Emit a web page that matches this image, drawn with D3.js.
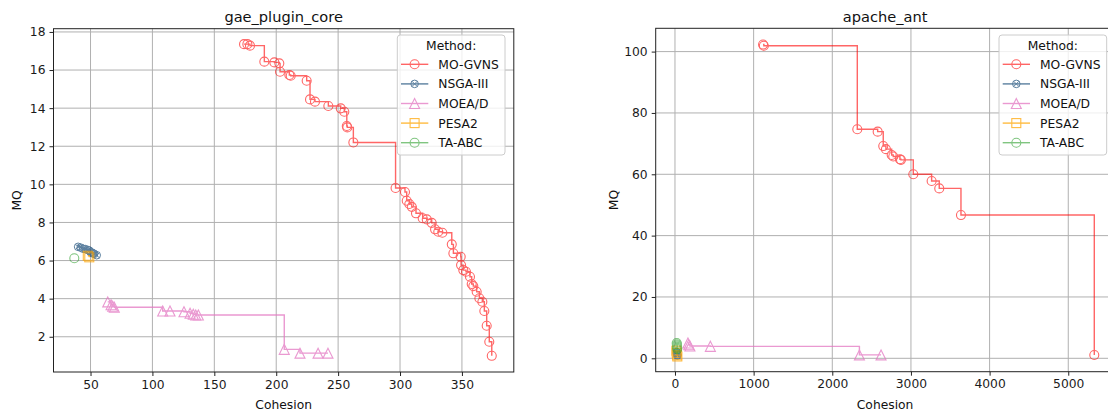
<!DOCTYPE html>
<html>
<head>
<meta charset="utf-8">
<script src="https://cdn.jsdelivr.net/npm/d3@7"></script>
<style>
  html, body { margin: 0; padding: 0; background: #fff; }
  svg { display: block; font-family: "DejaVu Sans", sans-serif; }
</style>
</head>
<body>
<svg id="chart" width="1108" height="416"></svg>
<script>
// ---------------- DATA ----------------
const methods = ["MO-GVNS", "NSGA-III", "MOEA/D", "PESA2", "TA-ABC"];

// gae_plugin_core
const gaeMOGVNS_cohesion = [174.0, 176.7, 178.8, 190.4, 198.5, 202.5, 203.1, 210.6, 211.7, 224.6, 227.3, 231.3, 242.1, 252.1, 255.0, 257.0, 257.4, 262.3, 296.4, 304.0, 305.4, 307.5, 309.5, 312.9, 318.3, 321.6, 325.6, 328.3, 330.9, 334.2, 341.8, 343.1, 349.0, 349.3, 351.1, 353.3, 356.5, 357.9, 359.2, 361.9, 364.1, 366.5, 368.1, 370.0, 372.1, 374.1];
const gaeMOGVNS_mq = [17.36, 17.36, 17.28, 16.44, 16.40, 16.35, 15.91, 15.74, 15.70, 15.44, 14.46, 14.34, 14.11, 13.99, 13.81, 13.06, 12.99, 12.20, 9.81, 9.60, 9.14, 8.97, 8.82, 8.48, 8.22, 8.16, 7.98, 7.64, 7.51, 7.46, 6.85, 6.38, 6.20, 5.76, 5.50, 5.41, 5.15, 4.77, 4.66, 4.36, 4.02, 3.84, 3.35, 2.58, 1.74, 1.00];
const gaeNSGA3_cohesion = [40, 42, 44, 46, 48, 49, 50, 51, 52, 53, 55];
const gaeNSGA3_mq = [6.72, 6.68, 6.62, 6.60, 6.55, 6.52, 6.45, 6.42, 6.38, 6.35, 6.28];
const gaeMOEAD_cohesion = [63.9, 66.6, 67.9, 69.2, 108.3, 114.2, 125.5, 130.4, 133.0, 135.0, 137.1, 206.5, 219.2, 233.8, 241.8];
const gaeMOEAD_mq = [3.83, 3.68, 3.60, 3.55, 3.35, 3.35, 3.31, 3.23, 3.18, 3.14, 3.14, 1.34, 1.14, 1.14, 1.14];
const gaePESA2_cohesion = [47.8, 49.0];
const gaePESA2_mq = [6.25, 6.17];
const gaeTAABC_cohesion = [36.9];
const gaeTAABC_mq = [6.12];

// apache_ant
const antMOGVNS_cohesion = [1120, 1130, 2318, 2577, 2648, 2682, 2755, 2775, 2860, 2873, 3030, 3263, 3360, 3636, 5331];
const antMOGVNS_mq = [102.3, 101.9, 74.7, 73.9, 69.2, 68.2, 66.3, 65.8, 64.9, 64.7, 60.0, 57.8, 55.4, 46.7, 1.08];
const antNSGA3_cohesion = [22, 25, 28, 31];
const antNSGA3_mq = [2.0, 1.6, 1.2, 0.9];
const antMOEAD_cohesion = [165, 175, 190, 450, 2345, 2620];
const antMOEAD_mq = [5.0, 4.4, 4.0, 3.9, 1.1, 1.1];
const antPESA2_cohesion = [18, 22, 26, 30];
const antPESA2_mq = [2.5, 1.8, 1.0, 0.6];
const antTAABC_cohesion = [22, 24, 26, 27, 28, 29];
const antTAABC_mq = [5.0, 4.6, 4.2, 3.8, 3.4, 3.0];

const gaeXTicks = [50, 100, 150, 200, 250, 300, 350];
const gaeYTicks = [2, 4, 6, 8, 10, 12, 14, 16, 18];
const antXTicks = [0, 1000, 2000, 3000, 4000, 5000];
const antYTicks = [0, 20, 40, 60, 80, 100];

// ---------------- STYLE ----------------
const styles = {
  "MO-GVNS": { color: "#ff0000", opacity: 0.6, marker: "circle" },
  "NSGA-III": { color: "#24557f", opacity: 0.75, marker: "otimes" },
  "MOEA/D": { color: "#e377c2", opacity: 0.75, marker: "triangle" },
  "PESA2": { color: "#ffa500", opacity: 0.75, marker: "square" },
  "TA-ABC": { color: "#2ca02c", opacity: 0.6, marker: "circle" }
};

const zip = (a, b) => a.map((v, i) => ({ x: v, y: b[i] }));

const panels = [
  {
    title: "gae_plugin_core",
    xDomain: [20.1, 391.9], xRange: [53.5, 513.8],
    yDomain: [0.15, 18.17], yRange: [372, 28.7],
    xTicks: gaeXTicks, yTicks: gaeYTicks,
    series: {
      "MO-GVNS": zip(gaeMOGVNS_cohesion, gaeMOGVNS_mq),
      "NSGA-III": zip(gaeNSGA3_cohesion, gaeNSGA3_mq),
      "MOEA/D": zip(gaeMOEAD_cohesion, gaeMOEAD_mq),
      "PESA2": zip(gaePESA2_cohesion, gaePESA2_mq),
      "TA-ABC": zip(gaeTAABC_cohesion, gaeTAABC_mq)
    },
    legendX: 397.3, ylabelX: 17
  },
  {
    title: "apache_ant",
    xDomain: [-245, 5588], xRange: [655.7, 1114.5],
    yDomain: [-4.37, 107.6], yRange: [371.7, 28.3],
    xTicks: antXTicks, yTicks: antYTicks,
    series: {
      "MO-GVNS": zip(antMOGVNS_cohesion, antMOGVNS_mq),
      "NSGA-III": zip(antNSGA3_cohesion, antNSGA3_mq),
      "MOEA/D": zip(antMOEAD_cohesion, antMOEAD_mq),
      "PESA2": zip(antPESA2_cohesion, antPESA2_mq),
      "TA-ABC": zip(antTAABC_cohesion, antTAABC_mq)
    },
    legendX: 999, ylabelX: 614
  }
];

const svg = d3.select("#chart");
const FONT = 12.3;

function drawMarker(g, type, x, y, color) {
  const r = 4.5;
  if (type === "circle") {
    g.append("circle").attr("cx", x).attr("cy", y).attr("r", r)
      .attr("fill", "none").attr("stroke", color).attr("stroke-width", 1.1);
  } else if (type === "square") {
    g.append("rect").attr("x", x - r).attr("y", y - r).attr("width", 2 * r).attr("height", 2 * r)
      .attr("fill", "none").attr("stroke", color).attr("stroke-width", 1.1);
  } else if (type === "triangle") {
    const s = 5;
    g.append("path").attr("d", `M${x},${y - s}L${x - s},${y + s}L${x + s},${y + s}Z`)
      .attr("fill", "none").attr("stroke", color).attr("stroke-width", 1.1);
  } else if (type === "otimes") {
    const rr = 3.8, d = 2.7;
    g.append("circle").attr("cx", x).attr("cy", y).attr("r", rr)
      .attr("fill", "none").attr("stroke", color).attr("stroke-width", 1);
    g.append("path").attr("d", `M${x - d},${y - d}L${x + d},${y + d}M${x - d},${y + d}L${x + d},${y - d}`)
      .attr("stroke", color).attr("stroke-width", 1);
  }
}

panels.forEach(p => {
  const x = d3.scaleLinear().domain(p.xDomain).range(p.xRange);
  const y = d3.scaleLinear().domain(p.yDomain).range(p.yRange);
  const [x0, x1] = p.xRange, [y1, y0] = p.yRange;
  const g = svg.append("g");

  // grid
  g.append("g").selectAll("line").data(p.xTicks).join("line")
    .attr("x1", d => x(d)).attr("x2", d => x(d)).attr("y1", y0).attr("y2", y1)
    .attr("stroke", "#b0b0b0").attr("stroke-width", 1);
  g.append("g").selectAll("line").data(p.yTicks).join("line")
    .attr("x1", x0).attr("x2", x1).attr("y1", d => y(d)).attr("y2", d => y(d))
    .attr("stroke", "#b0b0b0").attr("stroke-width", 1);

  // series
  const clipId = "clip" + p.title;
  svg.append("clipPath").attr("id", clipId).append("rect")
    .attr("x", x0).attr("y", y0).attr("width", x1 - x0).attr("height", y1 - y0);
  const plot = g.append("g").attr("clip-path", `url(#${clipId})`);
  const line = d3.line().x(d => x(d.x)).y(d => y(d.y)).curve(d3.curveStepAfter);
  methods.forEach(m => {
    const st = styles[m];
    const data = p.series[m];
    const sg = plot.append("g").attr("opacity", st.opacity);
    sg.append("path").attr("d", line(data)).attr("fill", "none")
      .attr("stroke", st.color).attr("stroke-width", 1.4);
    data.forEach(d => drawMarker(sg, st.marker, x(d.x), y(d.y), st.color));
  });

  // axes
  const xAxis = d3.axisBottom(x).tickValues(p.xTicks).tickSize(4).tickPadding(4).tickFormat(d3.format("d"));
  const yAxis = d3.axisLeft(y).tickValues(p.yTicks).tickSize(4).tickPadding(4).tickFormat(d3.format("d"));
  const gx = g.append("g").attr("transform", `translate(0,${y1})`).call(xAxis);
  const gy = g.append("g").attr("transform", `translate(${x0},0)`).call(yAxis);
  [gx, gy].forEach(a => {
    a.select(".domain").remove();
    a.selectAll("text").attr("font-size", FONT).attr("fill", "#1a1a1a").attr("font-family", "DejaVu Sans");
    a.selectAll("line").attr("stroke", "#222");
  });
  // spines
  g.append("rect").attr("x", x0).attr("y", y0).attr("width", x1 - x0).attr("height", y1 - y0)
    .attr("fill", "none").attr("stroke", "#222").attr("stroke-width", 1);

  // title & labels
  g.append("text").attr("x", (x0 + x1) / 2).attr("y", 22).attr("text-anchor", "middle")
    .attr("font-size", 14.6).attr("fill", "#111").text(p.title);
  g.append("text").attr("x", (x0 + x1) / 2).attr("y", 409).attr("text-anchor", "middle")
    .attr("font-size", FONT).attr("fill", "#111").text("Cohesion");
  g.append("text").attr("transform", `translate(${p.ylabelX + 4},${(y0 + y1) / 2}) rotate(-90)`)
    .attr("text-anchor", "middle").attr("font-size", FONT).attr("fill", "#111").text("MQ");

  // legend
  const lx = p.legendX, ly = 35, lw = 107.7, lh = 120;
  const lg = g.append("g");
  lg.append("rect").attr("x", lx).attr("y", ly).attr("width", lw).attr("height", lh)
    .attr("rx", 3).attr("fill", "#fff").attr("fill-opacity", 0.8)
    .attr("stroke", "#cccccc").attr("stroke-width", 1);
  lg.append("text").attr("x", lx + lw / 2).attr("y", 50).attr("text-anchor", "middle")
    .attr("font-size", FONT).attr("fill", "#111").text("Method:");
  methods.forEach((m, i) => {
    const st = styles[m];
    const cy = 64.3 + i * 19.6;
    const eg = lg.append("g").attr("opacity", st.opacity);
    eg.append("line").attr("x1", lx + 3.7).attr("x2", lx + 31).attr("y1", cy).attr("y2", cy)
      .attr("stroke", st.color).attr("stroke-width", 1.4);
    drawMarker(eg, st.marker, lx + 17.3, cy, st.color);
    lg.append("text").attr("x", lx + 41).attr("y", cy + 4.4).attr("font-size", FONT)
      .attr("fill", "#111").text(m);
  });
});
</script>
</body>
</html>
